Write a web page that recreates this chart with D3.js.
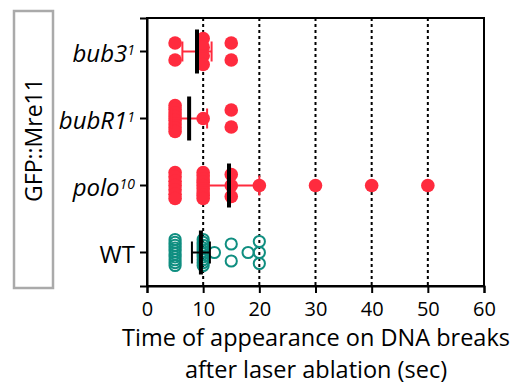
<!DOCTYPE html>
<html><head><meta charset="utf-8">
<script src="https://cdn.jsdelivr.net/npm/d3@7"></script>
<style>body{margin:0;background:#fff}svg{display:block}</style>
</head><body>
<svg id="c" width="525" height="385"></svg>
<script>
const categories = ["bub3", "bubR1", "polo", "WT"];
const superscripts = ["1", "1", "10", ""];
const italicNames = [true, true, true, false];
const bub3Values = [5, 5, 10, 10, 10, 10, 15, 15];
const bubR1Values = [5, 5, 5, 5, 5, 5, 5, 5, 10, 15, 15];
const poloValues = [5, 5, 5, 5, 5, 5, 5, 10, 10, 10, 10, 10, 10, 10, 10, 10, 15, 15, 15, 20, 30, 40, 50];
const wtValues = [5, 5, 5, 5, 5, 5, 5, 5, 5, 5, 10, 10, 10, 10, 10, 10, 10, 10, 10, 10, 12, 15, 15, 18, 20, 20, 20];
const means = [8.9, 7.5, 14.6, 9.6];
const errors = [2.6, 3.2, 5.4, 1.6];
const xTicks = [0, 10, 20, 30, 40, 50, 60];
const gridTicks = [10, 20, 30, 40, 50];
const seriesValues = [bub3Values, bubR1Values, poloValues, wtValues];

const RED = "#ff2b3e", TEAL = "#0f8e80";
const svg = d3.select("#c");
const m = {l: 147, r: 484, t: 18, b: 286};
const x = d3.scaleLinear().domain([0, 60]).range([m.l, m.r]);
const y = d3.scaleBand().domain(categories).range([m.t, m.b]).padding(0);
const FONT = "'Open Sans', 'Noto Sans', sans-serif";

// grid lines
svg.append("g").selectAll("line").data(gridTicks).join("line")
  .attr("x1", d => x(d)).attr("x2", d => x(d))
  .attr("y1", m.t).attr("y2", m.b)
  .attr("stroke", "#000").attr("stroke-width", 2).attr("stroke-dasharray", "3,3");

// points
seriesValues.forEach((vals, i) => {
  const cat = categories[i];
  const cy = y(cat) + y.bandwidth() / 2;
  const counts = d3.rollup(vals, v => v.length, d => d);
  const seen = new Map();
  const open = cat === "WT";
  vals.forEach(v => {
    const n = counts.get(v);
    const k = seen.get(v) || 0; seen.set(v, k + 1);
    const s = n <= 1 ? 0 : Math.min(13, 6 + 2.5 * (n - 1));
    const off = n <= 1 ? 0 : -s + 2 * s * k / (n - 1);
    const c = svg.append("circle").attr("cx", x(v)).attr("cy", cy + off);
    if (open) c.attr("r", 5.6).attr("fill", "none").attr("stroke", TEAL).attr("stroke-width", 2);
    else c.attr("r", 6.8).attr("fill", RED);
  });
});

// error bars and means
categories.forEach((cat, i) => {
  const cy = y(cat) + y.bandwidth() / 2;
  const col = cat === "WT" ? "#000" : RED;
  const lo = x(means[i] - errors[i]), hi = x(means[i] + errors[i]);
  const g = svg.append("g").attr("stroke", col).attr("stroke-width", 2);
  g.append("line").attr("x1", lo).attr("x2", hi).attr("y1", cy).attr("y2", cy);
  const ch = cat === "WT" ? 11 : 10;
  [lo, hi].forEach(px => g.append("line").attr("x1", px).attr("x2", px).attr("y1", cy - ch).attr("y2", cy + ch));
  svg.append("line").attr("x1", x(means[i])).attr("x2", x(means[i]))
    .attr("y1", cy - 22).attr("y2", cy + 22).attr("stroke", "#000").attr("stroke-width", 4);
});

// frame
svg.append("rect").attr("x", m.l).attr("y", m.t).attr("width", m.r - m.l).attr("height", m.b - m.t)
  .attr("fill", "none").attr("stroke", "#000").attr("stroke-width", 2);

// x axis
const xa = svg.append("g").attr("transform", `translate(0,${m.b})`)
  .call(d3.axisBottom(x).tickValues(xTicks).tickSize(7).tickPadding(9));
xa.select(".domain").attr("stroke-width", 2);
xa.selectAll(".tick line").attr("stroke-width", 2);
xa.selectAll("text").attr("font-family", FONT).attr("font-size", 20).attr("fill", "#000");

// y axis
const ya = svg.append("g").attr("transform", `translate(${m.l},0)`)
  .call(d3.axisLeft(y).tickSize(7).tickPadding(4).tickFormat(""));
ya.select(".domain").attr("stroke-width", 2);
ya.selectAll(".tick line").attr("stroke-width", 2);
categories.forEach((cat, i) => {
  const t = svg.append("text").attr("x", m.l - 12).attr("y", y(cat) + y.bandwidth() / 2 + 10)
    .attr("text-anchor", "end").attr("font-family", FONT).attr("font-size", 24).attr("fill", "#000");
  t.append("tspan").text(cat).attr("font-style", italicNames[i] ? "italic" : "normal");
  if (superscripts[i]) t.append("tspan").text(superscripts[i]).attr("font-style", "italic")
    .attr("font-size", 14).attr("dy", -7);
});

// x title
const xt = svg.append("text").attr("text-anchor", "middle").attr("font-family", FONT)
  .attr("font-size", 23.5).attr("fill", "#000");
xt.append("tspan").attr("x", 316).attr("y", 346).text("Time of appearance on DNA breaks");
xt.append("tspan").attr("x", 316).attr("y", 378).text("after laser ablation (sec)");

// left box label
svg.append("rect").attr("x", 14).attr("y", 11).attr("width", 39).attr("height", 277)
  .attr("fill", "none").attr("stroke", "#aaa").attr("stroke-width", 2.5);
svg.append("text").attr("transform", "translate(42,140) rotate(-90)").attr("text-anchor", "middle")
  .attr("font-family", FONT).attr("font-size", 23).attr("fill", "#000").text("GFP::Mre11");
</script>
</body></html>
